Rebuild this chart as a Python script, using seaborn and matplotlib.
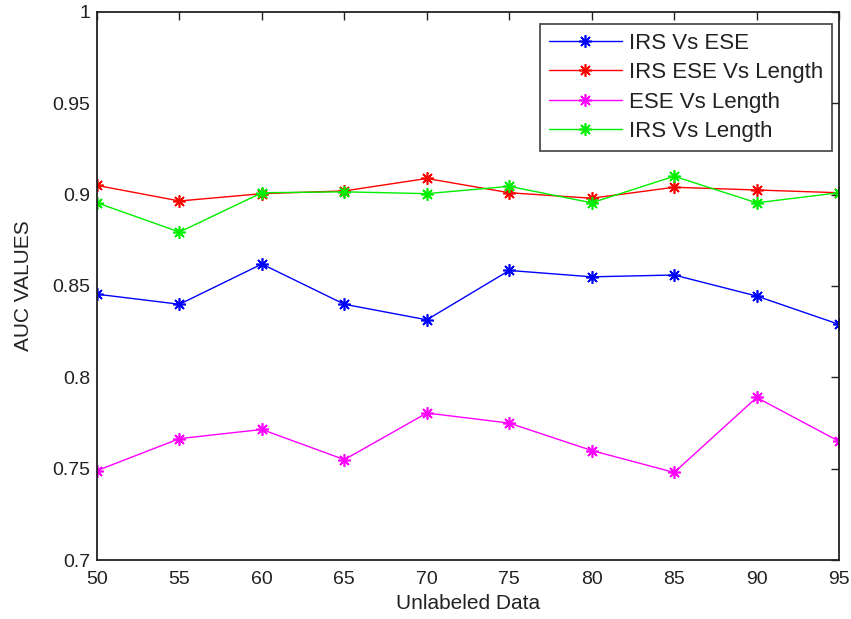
import matplotlib
matplotlib.use("Agg")
import matplotlib.pyplot as plt
import seaborn as sns
import pandas as pd

unlabeled = [50, 55, 60, 65, 70, 75, 80, 85, 90, 95]
irs_vs_ese = [0.8455, 0.840, 0.862, 0.840, 0.8315, 0.8585, 0.855, 0.856, 0.8445, 0.829]
irs_ese_vs_length = [0.905, 0.8965, 0.9005, 0.902, 0.9088, 0.901, 0.898, 0.904, 0.9025, 0.901]
ese_vs_length = [0.749, 0.7665, 0.7715, 0.755, 0.7805, 0.775, 0.760, 0.748, 0.789, 0.765]
irs_vs_length = [0.8955, 0.8795, 0.901, 0.9015, 0.9005, 0.9045, 0.8955, 0.910, 0.8955, 0.901]

series_names = ["IRS Vs ESE", "IRS ESE Vs Length", "ESE Vs Length", "IRS Vs Length"]
series_values = [irs_vs_ese, irs_ese_vs_length, ese_vs_length, irs_vs_length]
colors = ["#0000ff", "#ff0000", "#ff00ff", "#00ee00"]

x_ticks = [50, 55, 60, 65, 70, 75, 80, 85, 90, 95]
y_ticks = [0.7, 0.75, 0.8, 0.85, 0.9, 0.95, 1.0]
y_tick_labels = ["0.7", "0.75", "0.8", "0.85", "0.9", "0.95", "1"]

rows = []
for name, vals in zip(series_names, series_values):
    for xv, yv in zip(unlabeled, vals):
        rows.append({"Unlabeled Data": xv, "AUC": yv, "series": name})
df = pd.DataFrame(rows)

sns.set_style("white")
plt.rcParams["font.family"] = ["Liberation Sans", "DejaVu Sans"]

fig = plt.figure(figsize=(8.51, 6.19), dpi=100)
ax = fig.add_axes([0.114, 0.095, 0.872, 0.886])

asterisk = (8, 2, 0)
for name, col in zip(series_names, colors):
    sub = df[df["series"] == name]
    sns.lineplot(data=sub, x="Unlabeled Data", y="AUC", ax=ax, color=col,
                 marker=asterisk, markersize=9, markeredgecolor=col,
                 markerfacecolor=col, markeredgewidth=1.2,
                 linewidth=1.0, label=name)

ax.set_xlim(50, 95)
ax.set_ylim(0.7, 1.0)
ax.set_xticks(x_ticks)
ax.set_xticklabels([str(t) for t in x_ticks])
ax.set_yticks(y_ticks)
ax.set_yticklabels(y_tick_labels)
ax.tick_params(direction="in", length=6, width=1, top=True, right=True,
               labelsize=14, colors="#222222")
ax.tick_params(axis="x", pad=8)
ax.tick_params(axis="y", pad=5)
for sp in ax.spines.values():
    sp.set_visible(True)
    sp.set_color("#222222")
    sp.set_linewidth(1.3)

ax.set_xlabel("Unlabeled Data", fontsize=15, labelpad=4, color="#222222")
ax.set_ylabel("AUC VALUES", fontsize=15, labelpad=14, color="#222222")

leg = ax.legend(loc="upper right", bbox_to_anchor=(0.99, 0.978), fontsize=16,
                frameon=True, fancybox=False, edgecolor="#222222",
                handlelength=3.3, handletextpad=0.3, borderpad=0.4,
                labelspacing=0.38, borderaxespad=0)
leg.get_frame().set_linewidth(1.3)
for t in leg.get_texts():
    t.set_color("#222222")

fig.savefig("out.png", dpi=100, facecolor="white")
